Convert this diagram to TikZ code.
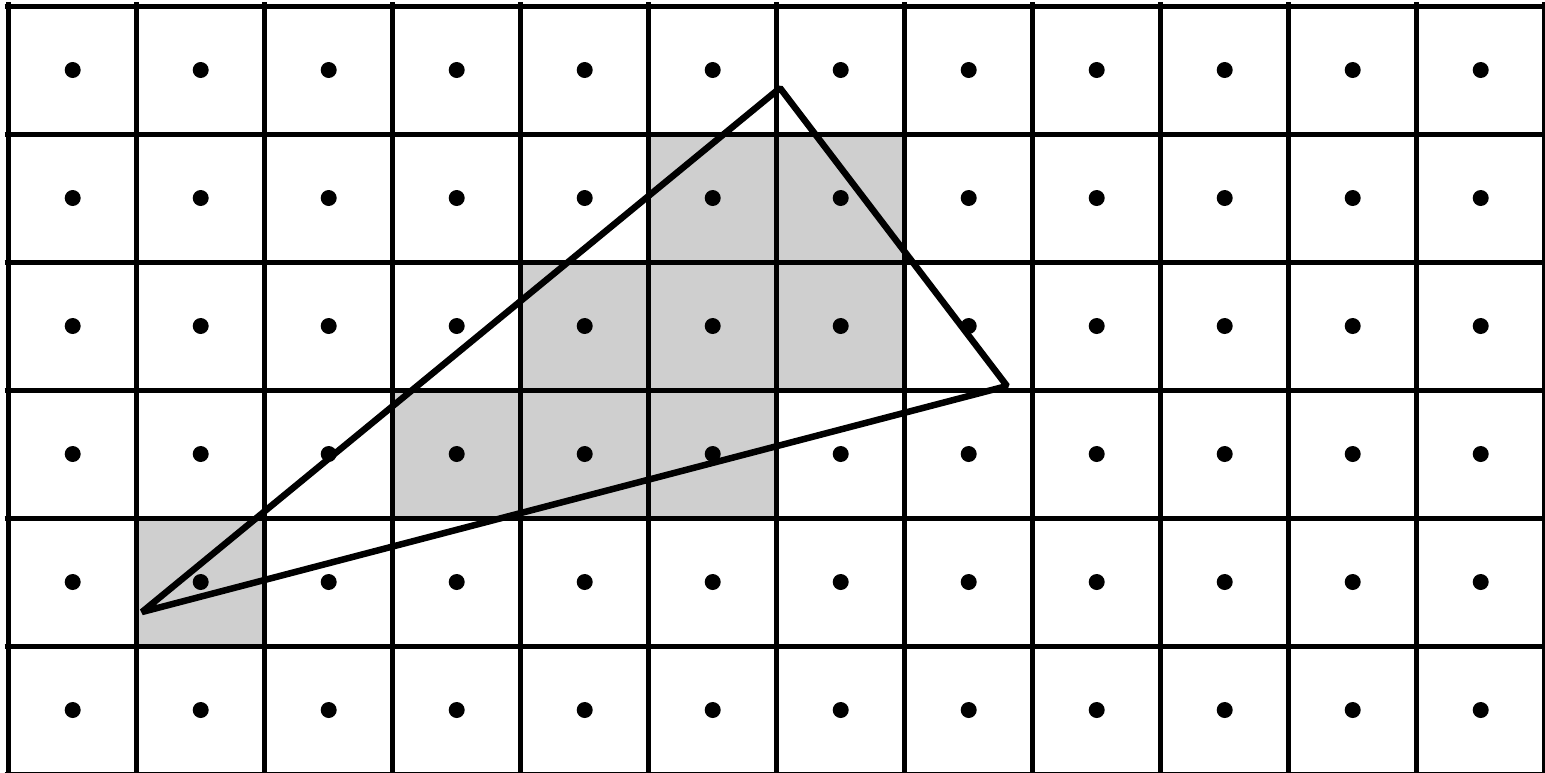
\documentclass[tikz,border=0pt]{standalone}
\begin{document}
\begin{tikzpicture}[x=1pt,y=-1pt,
  gridline/.style={line width=5pt},
  cellfill/.style={fill=black!19},
  tri/.style={line width=6.5pt, line join=bevel},
  pt/.style={fill=black}]
\useasboundingbox (0,0) rectangle (1545,772);
\clip (0,0) rectangle (1545,772);
\fill[white] (0,0) rectangle (1545,772);
% shaded cells (cell size 128)
\begin{scope}[shift={(8.7,6)}]
\foreach \c/\r in {5/1,6/1,4/2,5/2,6/2,3/3,4/3,5/3,1/4}
  \fill[cellfill] (\c*128,\r*128) rectangle ++(128,128);
\foreach \i in {0,...,12} \draw[gridline] (\i*128,-4) -- (\i*128,772);
\foreach \j in {0,...,6} \draw[gridline] (-4,\j*128) -- (1540,\j*128);
\end{scope}
% triangle
\coordinate (A) at (780,88);
\coordinate (B) at (1007,386);
\coordinate (C) at (142,612);
\draw[tri] (A) -- (B) -- (C) -- cycle;
% sample points
\begin{scope}[shift={(8.7,6)}]
\foreach \i in {0,...,11} \foreach \j in {0,...,5}
  \fill[pt] (\i*128+64,\j*128+64) circle (8);
\end{scope}
\end{tikzpicture}
\end{document}
